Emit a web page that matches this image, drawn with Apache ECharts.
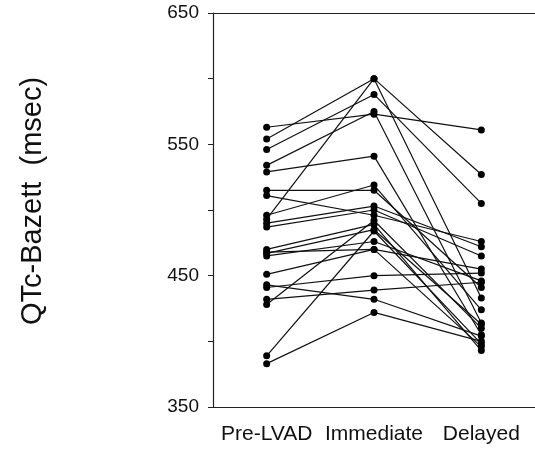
<!DOCTYPE html>
<html>
<head>
<meta charset="utf-8">
<script src="https://cdn.jsdelivr.net/npm/echarts@6/dist/echarts.min.js"></script>
<style>
html,body{margin:0;padding:0;background:#fff;}
#chart{width:535px;height:451px;}
</style>
</head>
<body>
<div id="chart"></div>
<script>
var categories = ['Pre-LVAD', 'Immediate', 'Delayed'];
// one entry per patient, same index in each array
var preLVAD   = [563, 554, 546, 534, 529, 515, 511, 496, 493, 490, 487, 470, 467, 465, 468, 451, 443, 441, 432, 428, 389, 383];
var immediate = [573, 600, 588, 575, 541, 515, 496, 519, 600, 503, 500, 489, 485, 476, 470, 470, 432, 450, 439, 492, 484, 422];
var delayed   = [561, 527, 505, 414, 405, 441, 476, 424, 433, 472, 465, 393, 413, 446, 455, 396, 404, 452, 445, 410, 398, 400];
var yTicks = [350, 450, 550, 650];

var chart = echarts.init(document.getElementById('chart'));

var series = [];
for (var i = 0; i < preLVAD.length; i++) {
    series.push({
        type: 'line',
        data: [preLVAD[i], immediate[i], delayed[i]],
        symbol: 'circle',
        symbolSize: 7,
        silent: true,
        lineStyle: {color: '#111', width: 1.2},
        itemStyle: {color: '#000'}
    });
}

chart.setOption({
    animation: false,
    grid: {left: 213, top: 13, bottom: 44, right: -11},
    xAxis: [{
        type: 'category',
        data: categories,
        axisLine: {lineStyle: {color: '#222', width: 1.2}},
        axisTick: {alignWithLabel: true, length: 5, lineStyle: {color: '#222'}},
        axisLabel: {
            interval: 0,
            margin: 17,
            fontFamily: 'Liberation Sans',
            fontSize: 21,
            color: '#111'
        }
    }, {
        type: 'category',
        data: categories,
        position: 'top',
        axisLine: {lineStyle: {color: '#222', width: 1.2}},
        axisTick: {show: false},
        axisLabel: {show: false}
    }],
    yAxis: {
        type: 'value',
        min: 350,
        max: 650,
        interval: 50,
        name: 'QTc-Bazett  (msec)',
        nameLocation: 'middle',
        nameGap: 166,
        nameTextStyle: {
            fontFamily: 'Liberation Sans',
            fontSize: 29,
            color: '#111',
            padding: [0, 0, 0, 18]
        },
        axisLine: {show: true, lineStyle: {color: '#222', width: 1.2}},
        axisTick: {show: true, length: 5, lineStyle: {color: '#222'}},
        splitLine: {show: false},
        axisLabel: {
            margin: 14,
            fontFamily: 'Liberation Sans',
            fontSize: 19,
            color: '#111',
            formatter: function (v) {
                return yTicks.indexOf(v) >= 0 ? String(v) : '';
            }
        }
    },
    series: series
});
</script>
</body>
</html>
